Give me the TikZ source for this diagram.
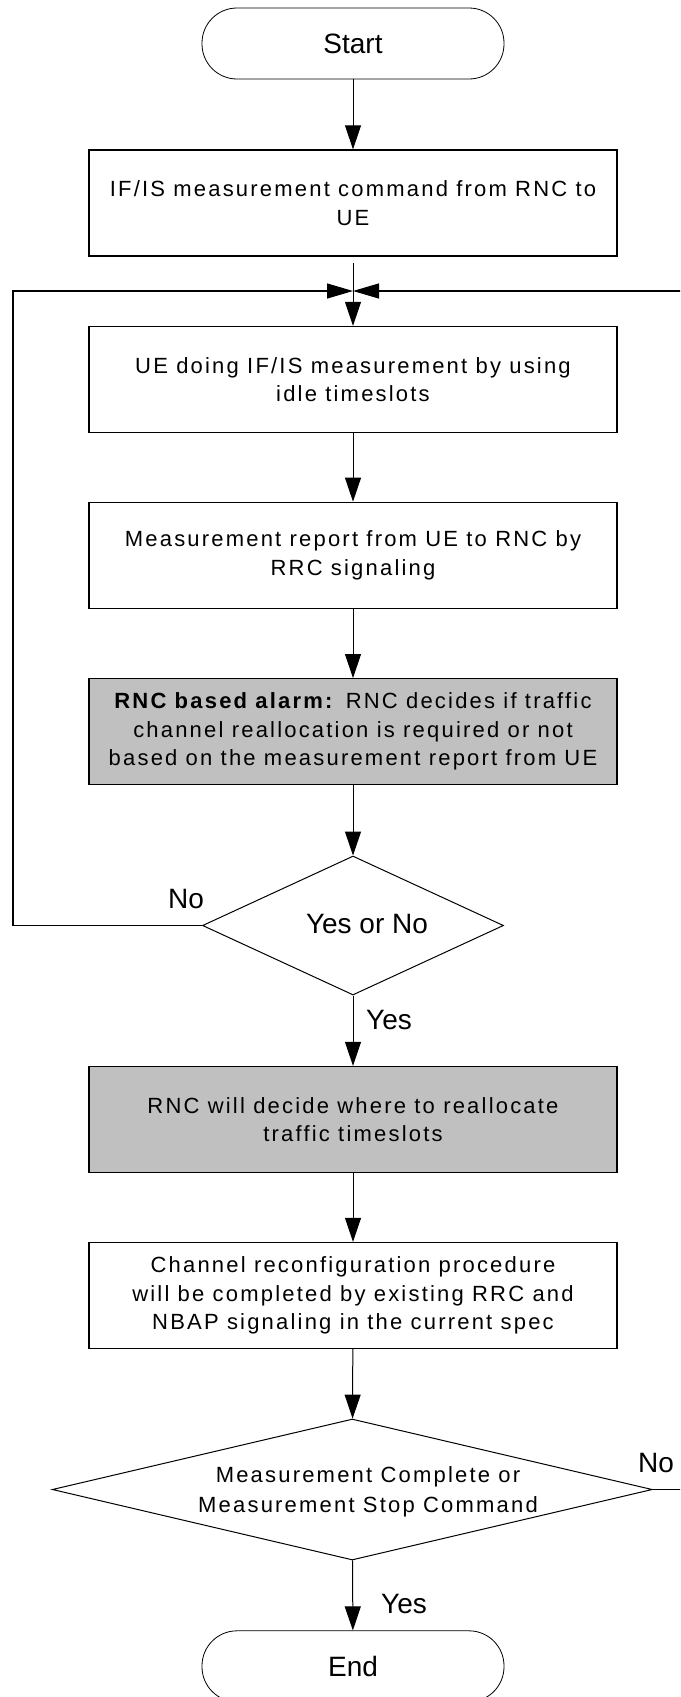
\documentclass[tikz,border=0pt]{standalone}
\usepackage{fontspec}
\setmainfont{Liberation Sans}
\newfontfamily\boxfont[LetterSpace=10]{Liberation Sans}
\usetikzlibrary{arrows.meta,shapes.geometric}
\definecolor{boxgray}{RGB}{192,192,192}
\tikzset{
  terminal/.style={draw, line width=0.8pt, rounded corners=35pt, minimum width=302pt, minimum height=71pt, inner sep=0pt, font=\fontsize{28}{32}\selectfont},
  procbox/.style={draw, line width=1.3pt, minimum width=528pt, minimum height=106pt, inner sep=0pt, align=center, font=\boxfont\fontsize{22}{28.5}\selectfont},
  graybox/.style={procbox, fill=boxgray},
  decision/.style={draw, diamond, line width=1pt, inner sep=0pt},
  lbl/.style={font=\fontsize{28}{32}\selectfont, inner sep=0pt},
  flow/.style={line width=1pt, -{Triangle[length=24pt,width=16pt]}},
  loopline/.style={line width=1.3pt, -{Triangle[length=26pt,width=15pt]}},
}
\begin{document}
\begin{tikzpicture}[x=1pt,y=-1pt]
\useasboundingbox (0,0) rectangle (680,1697);
\clip (0,0) rectangle (680,1697);
\node[terminal] (start) at (353,43.5) {Start};
\node[procbox] (b1) at (353,203) {IF/IS measurement command from RNC to\\UE};
\coordinate (merge) at (353,291);
\node[procbox] (b2) at (353,379.5) {UE doing IF/IS measurement by using\\idle timeslots};
\node[procbox] (b3) at (353,555.3) {Measurement report from UE to RNC by\\RRC signaling};
\node[graybox] (b4) at (353,731.7) {\textbf{RNC based alarm:} RNC decides if traffic\\channel reallocation is required or not\\based on the measurement report from UE};
\node[decision, minimum width=301pt, minimum height=139pt] (d1) at (353,925.5) {};
\node[lbl] (d1t) at (367,924) {Yes or No};
\node[graybox] (b5) at (353,1119.5) {RNC will decide where to reallocate\\traffic timeslots};
\node[procbox] (b6) at (353,1295.5) {Channel reconfiguration procedure\\will be completed by existing RRC and\\NBAP signaling in the current spec};
\node[decision, minimum width=600pt, minimum height=141pt] (d2) at (352.3,1489.5) {};
\node[font=\boxfont\fontsize{22}{30}\selectfont, align=center, inner sep=0pt] (d2t) at (368,1492) {Measurement Complete or\\Measurement Stop Command};
\node[terminal] (end) at (353,1666.3) {End};
\node[lbl] (no1) at (186,899) {No};
\node[lbl] (yes1) at (389,1020) {Yes};
\node[lbl] (no2) at (656,1463) {No};
\node[lbl] (yes2) at (404,1604) {Yes};
\draw[flow] (start) -- (b1);
\draw[flow] ([yshift=-6pt]b1.south) -- (b2);
\draw[flow] (b2) -- (b3);
\draw[flow] (b3) -- (b4);
\draw[flow] (b4) -- (d1);
\draw[flow] (d1) -- (b5);
\draw[flow] (b5) -- (b6);
\draw[flow] (b6) -- (d2);
\draw[flow] (d2) -- (end);
\draw[loopline] (d1.west) -- ++(-189,0) |- (merge);
\draw[loopline] (d2.east) -- ++(80,0) |- (merge);
\end{tikzpicture}
\end{document}
